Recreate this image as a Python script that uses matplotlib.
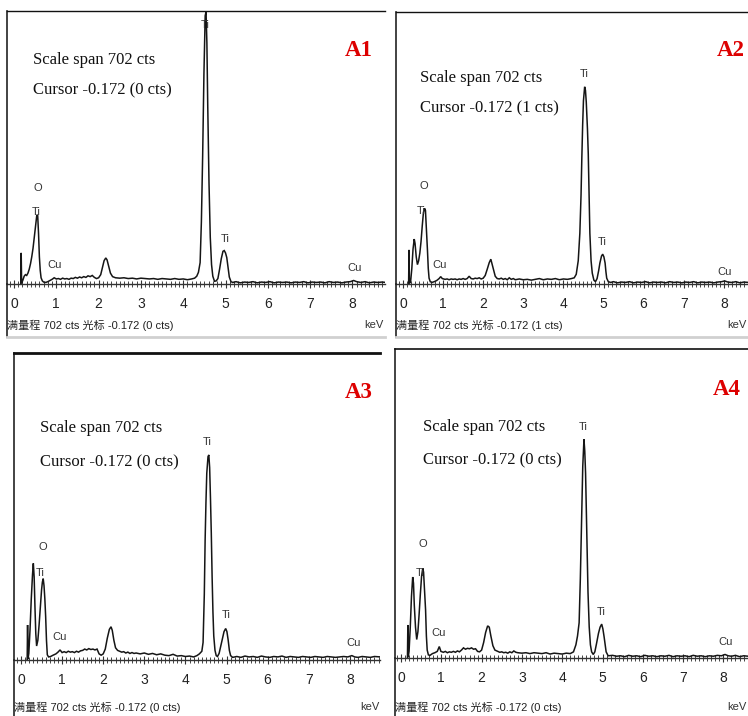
import matplotlib
matplotlib.use("Agg")
import matplotlib.pyplot as plt
from matplotlib.lines import Line2D
from matplotlib.ticker import MultipleLocator

# ---------------- data (energy in keV, counts) ----------------
a1_kev = [0.16, 0.17, 0.18, 0.21, 0.24, 0.27, 0.30, 0.33, 0.36, 0.39, 0.42, 0.45, 0.48, 0.51, 0.54, 0.56,
          0.58, 0.60, 0.62, 0.64, 0.67, 0.70, 0.75, 0.80, 0.85, 0.90, 0.95, 1.00, 1.05, 1.10, 1.15, 1.20,
          1.25, 1.30, 1.35, 1.40, 1.45, 1.50, 1.55, 1.60, 1.65, 1.70, 1.75, 1.80, 1.85, 1.90, 1.95, 2.00,
          2.05, 2.09, 2.13, 2.17, 2.20, 2.24, 2.28, 2.33, 2.40, 2.50, 2.60, 2.70, 2.80, 2.90, 3.00, 3.10,
          3.20, 3.30, 3.40, 3.50, 3.60, 3.70, 3.80, 3.90, 4.00, 4.10, 4.20, 4.27, 4.32, 4.36, 4.40, 4.43,
          4.46, 4.49, 4.52, 4.54, 4.56, 4.58, 4.61, 4.64, 4.67, 4.70, 4.74, 4.78, 4.82, 4.86, 4.90, 4.94,
          4.97, 5.00, 5.03, 5.06, 5.09, 5.13, 5.17, 5.25, 5.35, 5.45, 5.55, 5.65, 5.75, 5.85, 5.95, 6.05,
          6.15, 6.25, 6.35, 6.45, 6.55, 6.65, 6.75, 6.85, 6.95, 7.05, 7.15, 7.25, 7.35, 7.45, 7.55, 7.65,
          7.75, 7.85, 7.95, 8.03, 8.10, 8.20, 8.30, 8.40, 8.50, 8.60, 8.70, 8.80]
a1_cts = [0, 80, 2, 10, 20, 24, 22, 28, 38, 52, 70, 92, 120, 150, 178, 176,
          130, 70, 35, 16, 8, 5, 4, 6, 9, 12, 16, 13, 14, 12, 15, 13,
          14, 12, 15, 14, 17, 15, 18, 16, 19, 17, 21, 19, 22, 17, 14, 16,
          24, 42, 60, 67, 62, 45, 28, 19, 16, 15, 16, 14, 15, 13, 15, 14,
          13, 14, 12, 14, 13, 12, 14, 12, 13, 11, 13, 15, 20, 30, 55, 160,
          330, 540, 690, 700, 620, 460, 260, 120, 50, 20, 7, 8, 14, 38, 65, 84,
          86, 80, 68, 42, 18, 6, 4, 6, 3, 5, 4, 6, 3, 5, 4, 6,
          3, 5, 4, 5, 3, 5, 4, 6, 3, 5, 4, 5, 3, 6, 4, 5,
          3, 5, 6, 9, 6, 4, 6, 3, 5, 4, 5, 4]

a2_kev = [0.14, 0.15, 0.16, 0.19, 0.22, 0.25, 0.28, 0.30, 0.33, 0.36, 0.39, 0.42, 0.45, 0.48, 0.51, 0.54,
          0.56, 0.58, 0.61, 0.63, 0.65, 0.68, 0.72, 0.78, 0.84, 0.90, 0.94, 0.98, 1.05, 1.10, 1.15, 1.20,
          1.25, 1.30, 1.35, 1.40, 1.45, 1.50, 1.55, 1.60, 1.65, 1.70, 1.75, 1.80, 1.85, 1.90, 1.95, 2.00,
          2.05, 2.10, 2.15, 2.19, 2.22, 2.26, 2.30, 2.35, 2.40, 2.45, 2.50, 2.55, 2.60, 2.65, 2.70, 2.75,
          2.80, 2.90, 3.00, 3.10, 3.20, 3.30, 3.40, 3.50, 3.60, 3.70, 3.80, 3.90, 4.00, 4.10, 4.20, 4.27,
          4.32, 4.37, 4.41, 4.44, 4.46, 4.48, 4.50, 4.53, 4.55, 4.57, 4.60, 4.62, 4.64, 4.66, 4.69, 4.72,
          4.76, 4.80, 4.84, 4.88, 4.91, 4.95, 4.98, 5.01, 5.04, 5.06, 5.08, 5.12, 5.18, 5.25, 5.35, 5.45,
          5.55, 5.65, 5.75, 5.85, 5.95, 6.05, 6.15, 6.25, 6.35, 6.45, 6.55, 6.65, 6.75, 6.85, 6.95, 7.05,
          7.15, 7.25, 7.35, 7.45, 7.55, 7.65, 7.75, 7.85, 7.95, 8.02, 8.10, 8.20, 8.30, 8.40, 8.50, 8.62]
a2_cts = [0, 88, 2, 6, 40, 90, 116, 105, 70, 50, 60, 80, 110, 150, 185, 195,
          190, 150, 87, 40, 15, 6, 4, 6, 9, 14, 19, 14, 12, 13, 11, 13,
          12, 13, 11, 13, 12, 14, 12, 14, 20, 14, 13, 15, 14, 16, 13, 15,
          22, 38, 55, 64, 52, 35, 20, 14, 13, 15, 12, 14, 11, 16, 12, 14,
          11, 13, 11, 12, 10, 12, 14, 11, 13, 12, 14, 11, 13, 12, 14, 16,
          25, 60, 131, 230, 327, 410, 473, 509, 500, 470, 400, 336, 230, 131, 60, 28,
          10, 6, 14, 35, 54, 72, 77, 70, 54, 32, 15, 6, 4, 6, 3, 5,
          4, 6, 3, 5, 4, 6, 3, 5, 4, 5, 3, 6, 4, 5, 3, 5,
          4, 6, 3, 5, 4, 5, 3, 5, 6, 8, 5, 4, 6, 3, 5, 4]

a3_kev = [0.15, 0.16, 0.17, 0.19, 0.22, 0.25, 0.28, 0.30, 0.32, 0.34, 0.36, 0.38, 0.41, 0.44, 0.47, 0.50,
          0.52, 0.54, 0.56, 0.58, 0.60, 0.62, 0.64, 0.67, 0.72, 0.78, 0.85, 0.90, 0.95, 1.00, 1.05, 1.10,
          1.15, 1.20, 1.25, 1.30, 1.35, 1.40, 1.45, 1.50, 1.55, 1.60, 1.65, 1.70, 1.75, 1.80, 1.85, 1.90,
          1.95, 2.00, 2.05, 2.10, 2.15, 2.19, 2.22, 2.26, 2.30, 2.35, 2.40, 2.45, 2.50, 2.55, 2.60, 2.65,
          2.70, 2.75, 2.80, 2.90, 3.00, 3.10, 3.20, 3.30, 3.40, 3.50, 3.60, 3.70, 3.80, 3.90, 4.00, 4.10,
          4.20, 4.28, 4.34, 4.40, 4.43, 4.46, 4.48, 4.50, 4.52, 4.55, 4.57, 4.59, 4.61, 4.63, 4.65, 4.67,
          4.69, 4.72, 4.75, 4.78, 4.82, 4.86, 4.90, 4.94, 4.98, 5.01, 5.04, 5.07, 5.10, 5.15, 5.25, 5.35,
          5.45, 5.55, 5.65, 5.75, 5.85, 5.95, 6.05, 6.15, 6.25, 6.35, 6.45, 6.55, 6.65, 6.75, 6.85, 6.95,
          7.05, 7.15, 7.25, 7.35, 7.45, 7.55, 7.65, 7.75, 7.85, 7.95, 8.05, 8.12, 8.20, 8.30, 8.40, 8.50,
          8.60, 8.75]
a3_cts = [0, 80, 2, 15, 70, 140, 195, 221, 190, 120, 60, 32, 45, 80, 120, 160,
          178, 186, 170, 140, 99, 45, 12, 7, 8, 11, 14, 18, 23, 17, 19, 17,
          20, 18, 19, 17, 20, 18, 21, 22, 25, 23, 26, 24, 25, 23, 25, 14,
          11, 14, 25, 50, 70, 76, 68, 45, 28, 22, 20, 18, 19, 16, 18, 15,
          17, 15, 16, 14, 16, 13, 15, 12, 14, 11, 10, 13, 9, 10, 8, 9,
          7, 10, 14, 20, 40, 150, 274, 360, 427, 465, 469, 440, 370, 290, 190, 110,
          55, 22, 10, 8, 15, 32, 50, 65, 72, 65, 46, 22, 10, 6, 8, 6,
          9, 7, 8, 6, 9, 7, 6, 8, 7, 9, 6, 8, 7, 6, 8, 7,
          6, 8, 7, 6, 8, 7, 6, 7, 8, 7, 10, 7, 6, 8, 7, 6,
          8, 7]

a4_kev = [0.16, 0.17, 0.18, 0.20, 0.23, 0.26, 0.29, 0.31, 0.33, 0.36, 0.39, 0.42, 0.45, 0.48, 0.51, 0.54,
          0.56, 0.58, 0.61, 0.63, 0.65, 0.68, 0.72, 0.78, 0.84, 0.90, 0.95, 0.99, 1.05, 1.10, 1.15, 1.20,
          1.25, 1.30, 1.35, 1.40, 1.45, 1.50, 1.55, 1.60, 1.65, 1.70, 1.75, 1.80, 1.85, 1.90, 1.95, 2.00,
          2.05, 2.10, 2.15, 2.19, 2.23, 2.28, 2.33, 2.40, 2.45, 2.50, 2.55, 2.60, 2.65, 2.70, 2.75, 2.80,
          2.85, 2.90, 3.00, 3.10, 3.20, 3.30, 3.40, 3.50, 3.60, 3.70, 3.80, 3.90, 4.00, 4.10, 4.20, 4.28,
          4.34, 4.38, 4.42, 4.45, 4.47, 4.49, 4.51, 4.54, 4.56, 4.58, 4.60, 4.62, 4.64, 4.67, 4.70, 4.73,
          4.77, 4.81, 4.85, 4.90, 4.94, 4.98, 5.01, 5.04, 5.07, 5.09, 5.14, 5.25, 5.35, 5.45, 5.55, 5.65,
          5.75, 5.85, 5.95, 6.05, 6.15, 6.25, 6.35, 6.45, 6.55, 6.65, 6.75, 6.85, 6.95, 7.05, 7.15, 7.25,
          7.35, 7.45, 7.55, 7.65, 7.75, 7.85, 7.95, 8.04, 8.12, 8.20, 8.30, 8.40, 8.50, 8.62]
a4_cts = [0, 75, 2, 15, 70, 140, 184, 170, 120, 70, 42, 60, 100, 145, 185, 204,
          195, 160, 109, 50, 18, 7, 6, 10, 12, 15, 26, 15, 13, 15, 12, 14,
          13, 15, 13, 16, 14, 18, 23, 20, 22, 21, 23, 20, 21, 15, 14, 18,
          35, 58, 73, 70, 50, 28, 18, 15, 13, 14, 12, 13, 11, 14, 12, 16,
          13, 12, 11, 12, 10, 12, 11, 10, 12, 9, 11, 10, 9, 11, 10, 14,
          30, 50, 80, 180, 268, 360, 435, 497, 470, 420, 330, 230, 150, 71, 30, 14,
          8, 14, 32, 56, 70, 77, 66, 48, 28, 14, 5, 6, 4, 5, 3, 6,
          4, 5, 3, 6, 4, 5, 3, 5, 4, 6, 3, 5, 4, 5, 3, 6,
          4, 5, 3, 5, 4, 6, 5, 8, 5, 4, 6, 3, 5, 4]

panel_names = ["A1", "A2", "A3", "A4"]
panel_kev = [a1_kev, a2_kev, a3_kev, a4_kev]
panel_cts = [a1_cts, a2_cts, a3_cts, a4_cts]
cursor_cts = ["0", "1", "0", "0"]
scale_span = 702
tick_labels = ["0", "1", "2", "3", "4", "5", "6", "7", "8"]

# element labels: (text, keV, counts)
peak_labels = [
    [("O", 0.56, 247), ("Ti", 0.52, 185), ("Cu", 0.95, 49), ("Ti", 4.53, 666), ("Ti", 4.99, 116), ("Cu", 8.04, 41)],
    [("O", 0.51, 253), ("Ti", 0.45, 188), ("Cu", 0.92, 49), ("Ti", 4.53, 542), ("Ti", 4.97, 108), ("Cu", 8.01, 31)],
    [("O", 0.54, 259), ("Ti", 0.46, 199), ("Cu", 0.93, 53), ("Ti", 4.54, 499), ("Ti", 4.99, 103), ("Cu", 8.09, 38)],
    [("O", 0.54, 259), ("Ti", 0.47, 192), ("Cu", 0.93, 56), ("Ti", 4.52, 525), ("Ti", 4.96, 105), ("Cu", 8.06, 37)],
]

# ---------------- layout (pixels) ----------------
W, H = 748, 716
layout = [
    dict(left=7, right=385, top=11, base=284, bottom=337, zero=14, ppk=42.3, topw=1.0,
         tx=33, ty1=60, ty2=90, lx=345, ly=50, by=325, kx=364, gray=True),
    dict(left=396, right=748, top=12, base=284, bottom=337, zero=403, ppk=40.1, topw=1.0,
         tx=420, ty1=78, ty2=108, lx=717, ly=50, by=325, kx=727, gray=True),
    dict(left=14, right=380, top=353, base=660, bottom=716, zero=21, ppk=41.1, topw=2.0,
         tx=40, ty1=428, ty2=462, lx=345, ly=393, by=707, kx=360, gray=False),
    dict(left=395, right=748, top=349, base=658, bottom=716, zero=401, ppk=40.3, topw=1.2,
         tx=423, ty1=427, ty2=460, lx=713, ly=390, by=707, kx=727, gray=False),
]

narrow = ["Liberation Sans Narrow", "Liberation Sans", "DejaVu Sans"]
cjk = ["Liberation Sans Narrow", "Liberation Sans", "Noto Sans CJK SC", "DejaVu Sans"]
serif = ["Liberation Serif", "DejaVu Serif"]

fig = plt.figure(figsize=(W / 100, H / 100), dpi=100)
fig.patch.set_facecolor("white")


def fx(px):
    return px / W


def fy(py):
    return 1 - py / H


for i, L in enumerate(layout):
    ax = fig.add_axes([fx(L["left"]), fy(L["base"]), (L["right"] - L["left"]) / W,
                       (L["base"] - L["top"]) / H])
    ax.set_xlim((L["left"] - L["zero"]) / L["ppk"], (L["right"] - L["zero"]) / L["ppk"])
    ax.set_ylim(0, scale_span)
    ax.plot(panel_kev[i], panel_cts[i], color="#151515", lw=1.1, solid_joinstyle="miter")

    ax.spines["right"].set_visible(False)
    ax.spines["top"].set_linewidth(L["topw"])
    ax.spines["top"].set_color("#111111")
    ax.spines["left"].set_linewidth(1.2)
    ax.spines["left"].set_color("#222222")
    ax.spines["bottom"].set_linewidth(1.0)
    ax.spines["bottom"].set_color("#333333")

    ax.set_yticks([])
    ax.xaxis.set_major_locator(MultipleLocator(1))
    ax.xaxis.set_minor_locator(MultipleLocator(0.1))
    ax.set_xticks(range(len(tick_labels)))
    ax.set_xticklabels(tick_labels, fontfamily=narrow, fontsize=10, color="#222222")
    ax.tick_params(axis="x", which="major", direction="inout", length=6, width=0.8,
                   pad=6.5, color="#333333")
    ax.tick_params(axis="x", which="minor", direction="inout", length=4.5, width=0.7,
                   color="#444444")

    for (s, e, c) in peak_labels[i]:
        ax.text(e, c, s, ha="center", va="center", fontsize=8, fontfamily=narrow,
                color="#333333")

    # left frame continues below the baseline
    fig.add_artist(Line2D([fx(L["left"]), fx(L["left"])], [fy(L["base"]), fy(L["bottom"])],
                          color="#222222", lw=1.2))
    if L["gray"]:
        fig.add_artist(Line2D([fx(L["left"]), fx(L["right"])], [fy(L["bottom"]), fy(L["bottom"])],
                              color="#d0d0d0", lw=2.0))

    fig.text(fx(L["tx"]), fy(L["ty1"]), f"Scale span {scale_span} cts", ha="left", va="center",
             fontfamily=serif, fontsize=12, color="#111111")
    fig.text(fx(L["tx"]), fy(L["ty2"]), f"Cursor -0.172 ({cursor_cts[i]} cts)", ha="left",
             va="center", fontfamily=serif, fontsize=12, color="#111111")
    fig.text(fx(L["lx"]), fy(L["ly"]), panel_names[i], ha="left", va="center",
             fontfamily=serif, fontweight="bold", fontsize=16.5, color="#dd0000")

    fig.text(fx(L["left"]), fy(L["by"]),
             f"满量程 {scale_span} cts 光标 -0.172 ({cursor_cts[i]} cts)",
             ha="left", va="center", fontfamily=cjk, fontsize=8, color="#222222")
    fig.text(fx(L["kx"]), fy(L["by"]), "keV", ha="left", va="center",
             fontfamily=narrow, fontsize=8, color="#333333")

fig.savefig("out.png", dpi=100, facecolor="white")
